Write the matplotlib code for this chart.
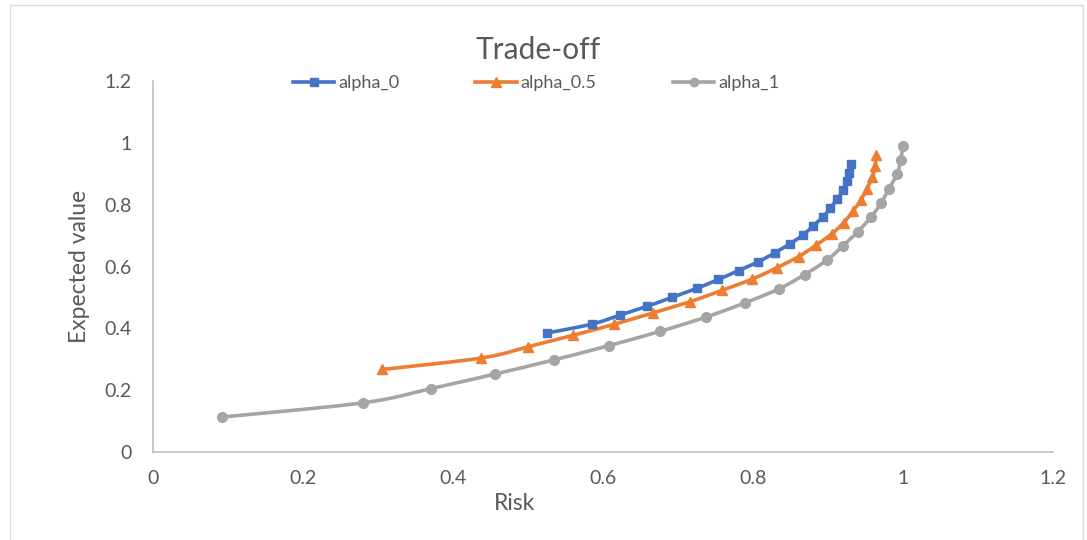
import numpy as np
import matplotlib
matplotlib.use("Agg")
import matplotlib.pyplot as plt
from matplotlib.lines import Line2D
from matplotlib.patches import Rectangle

# Risk / expected-value pairs for each alpha setting
risk_alpha_0 = [0.526, 0.586, 0.623, 0.659, 0.692, 0.725, 0.754, 0.781, 0.807, 0.829,
                0.849, 0.867, 0.880, 0.893, 0.903, 0.912, 0.920, 0.925, 0.928, 0.931]
value_alpha_0 = [0.385, 0.414, 0.443, 0.471, 0.500, 0.529, 0.558, 0.587, 0.615, 0.644,
                 0.673, 0.702, 0.731, 0.759, 0.788, 0.817, 0.846, 0.875, 0.903, 0.932]

risk_alpha_05 = [0.306, 0.438, 0.500, 0.560, 0.615, 0.667, 0.716, 0.759, 0.799, 0.832,
                 0.861, 0.884, 0.905, 0.921, 0.933, 0.944, 0.952, 0.959, 0.963, 0.964]
value_alpha_05 = [0.267, 0.304, 0.340, 0.377, 0.413, 0.450, 0.486, 0.523, 0.559, 0.596,
                  0.632, 0.669, 0.705, 0.742, 0.778, 0.815, 0.851, 0.888, 0.924, 0.960]

risk_alpha_1 = [0.092, 0.280, 0.371, 0.456, 0.535, 0.608, 0.676, 0.737, 0.789, 0.835,
                0.869, 0.899, 0.920, 0.940, 0.957, 0.971, 0.981, 0.992, 0.997, 1.000]
value_alpha_1 = [0.113, 0.159, 0.205, 0.252, 0.298, 0.344, 0.390, 0.436, 0.482, 0.528,
                 0.574, 0.621, 0.667, 0.713, 0.759, 0.805, 0.851, 0.898, 0.944, 0.990]

series_names = ["alpha_0", "alpha_0.5", "alpha_1"]
x_ticks = [0, 0.2, 0.4, 0.6, 0.8, 1, 1.2]
y_ticks = [0, 0.2, 0.4, 0.6, 0.8, 1, 1.2]

FONT = ["Lato", "DejaVu Sans"]
TEXT_COLOR = "#595959"
AXIS_COLOR = "#bfbfbf"


def smooth(xs, ys, steps=16):
    """Catmull-Rom style Bezier smoothing through the given points."""
    p = np.column_stack([xs, ys]).astype(float)
    n = len(p)
    out = [p[0]]
    for i in range(n - 1):
        p0 = p[i - 1] if i > 0 else p[i]
        p1 = p[i]
        p2 = p[i + 1]
        p3 = p[i + 2] if i + 2 < n else p[i + 1]
        c1 = p1 + (p2 - p0) / 6.0
        c2 = p2 - (p3 - p1) / 6.0
        t = np.linspace(0, 1, steps)[1:, None]
        seg = ((1 - t) ** 3) * p1 + 3 * ((1 - t) ** 2) * t * c1 + 3 * (1 - t) * t ** 2 * c2 + t ** 3 * p2
        out.extend(seg)
    out = np.array(out)
    return out[:, 0], out[:, 1]


fig = plt.figure(figsize=(10.87, 5.40), dpi=100)
fig.patch.set_facecolor("white")

# chart-area frame
fig.patches.append(Rectangle((10 / 1087, -0.05), 1073 / 1087, 1 - 5 / 540 + 0.05,
                             transform=fig.transFigure, fill=False,
                             edgecolor="#d9d9d9", linewidth=1.0))

ax = fig.add_axes([152.7 / 1087, 1 - 452 / 540, (1053 - 152.7) / 1087, (452 - 81) / 540])

styles = [
    dict(color="#4472C4", marker="s", ms=6.2),
    dict(color="#ED7D31", marker="^", ms=7.5),
    dict(color="#A5A5A5", marker="o", ms=7.0),
]
data = [(risk_alpha_0, value_alpha_0), (risk_alpha_05, value_alpha_05), (risk_alpha_1, value_alpha_1)]

handles = []
for (xs, ys), st, name in zip(data, styles, series_names):
    sx, sy = smooth(xs, ys)
    ax.plot(sx, sy, color=st["color"], lw=2.6, solid_capstyle="round", zorder=2)
    ax.plot(xs, ys, linestyle="none", marker=st["marker"], ms=st["ms"],
            color=st["color"], mec=st["color"], zorder=3)
    handles.append(Line2D([], [], color=st["color"], lw=2.6, marker=st["marker"],
                          ms=st["ms"] - 1, label=name))

ax.set_xlim(0, 1.2)
ax.set_ylim(0, 1.2)
ax.set_xticks(x_ticks)
ax.set_yticks(y_ticks)
ax.set_xticklabels([f"{v:g}" for v in x_ticks])
ax.set_yticklabels([f"{v:g}" for v in y_ticks])
ax.tick_params(length=0, labelsize=14, labelcolor=TEXT_COLOR)
ax.tick_params(axis="x", pad=13)
ax.tick_params(axis="y", pad=15)
for lab in ax.get_xticklabels() + ax.get_yticklabels():
    lab.set_family(FONT)

for side in ["top", "right"]:
    ax.spines[side].set_visible(False)
for side in ["left", "bottom"]:
    ax.spines[side].set_color(AXIS_COLOR)
    ax.spines[side].set_linewidth(1.2)
ax.patch.set_alpha(0)

fig.text(538 / 1087, 1 - 50 / 540, "Trade-off", ha="center", va="center",
         fontsize=21.5, color=TEXT_COLOR, family=FONT)
fig.text(514 / 1087, 1 - 503 / 540, "Risk", ha="center", va="center",
         fontsize=16.5, color=TEXT_COLOR, family=FONT)
fig.text(79 / 1087, 1 - 266 / 540, "Expected value", ha="center", va="center",
         rotation=90, fontsize=16.5, color=TEXT_COLOR, family=FONT)

leg = fig.legend(handles=handles, loc="center", bbox_to_anchor=(536 / 1087, 1 - 83 / 540),
                 ncol=3, frameon=False, handlelength=2.3, handletextpad=0.2,
                 columnspacing=4.23, prop={"family": FONT, "size": 13})
for t in leg.get_texts():
    t.set_color(TEXT_COLOR)

fig.savefig("out.png", dpi=100, facecolor="white")
